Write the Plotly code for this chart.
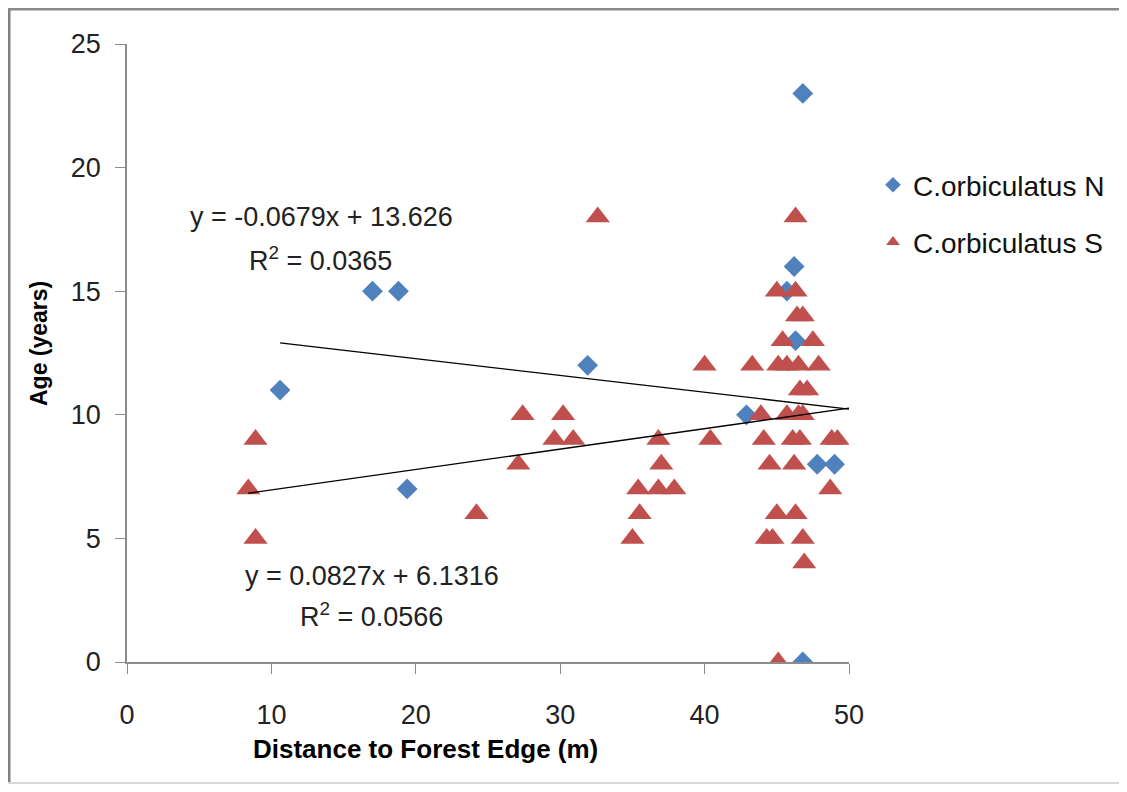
import plotly.graph_objects as go

# Data
n_name = "C.orbiculatus N"
n_dist = [10.6, 17.0, 18.8, 19.4, 31.9, 42.9, 46.8, 46.2, 45.7, 46.3, 47.8, 49.0, 46.8]
n_age = [11, 15, 15, 7, 12, 10, 23, 16, 15, 13, 8, 8, 0]

s_name = "C.orbiculatus S"
s_dist = [8.4, 8.9, 8.9, 24.2, 27.1, 27.4, 29.6, 30.2, 30.9, 32.6, 35.0, 35.4, 35.5,
          36.8, 37.0, 36.8, 37.9, 40.0, 40.4, 43.3, 43.9, 44.1, 44.5, 44.3, 44.7,
          45.0, 45.0, 45.1, 45.1, 45.4, 45.7, 45.7, 46.1, 46.2, 46.3, 46.3, 46.3,
          46.4, 46.5, 46.5, 46.6, 46.6, 46.8, 46.8, 46.8, 46.9, 47.1, 47.5, 47.9,
          48.7, 48.8, 49.2]
s_age = [7, 9, 5, 6, 8, 10, 9, 10, 9, 18, 5, 7, 6,
         9, 8, 7, 7, 12, 9, 12, 10, 9, 8, 5, 5,
         15, 6, 12, 0, 13, 12, 10, 9, 8, 18, 15, 6,
         14, 12, 10, 11, 9, 14, 10, 5, 4, 11, 13, 12,
         7, 9, 9]

# Trendline equations as printed on the chart
n_slope, n_intercept = -0.0679, 13.626
s_slope, s_intercept = 0.0827, 6.1316
n_label = ["y = -0.0679x + 13.626", "R<sup>2</sup> = 0.0365"]
s_label = ["y = 0.0827x + 6.1316", "R<sup>2</sup> = 0.0566"]

x_ticks = [0, 10, 20, 30, 40, 50]
y_ticks = [0, 5, 10, 15, 20, 25]
x_title = "Distance to Forest Edge (m)"
y_title = "Age (years)"

FONT = "Liberation Sans, Arial, sans-serif"
BLUE = "#4F81BD"
RED = "#C0504D"
TXT = "#222222"

# figure is placed by the page at an 8px offset; sizes below are in figure px
W, H = 1111, 776
L, T = 119, 36
PW, PH = 722, 618
R = W - L - PW
B = H - T - PH


def px_to_paper_x(px):
    return (px - L) / PW


def px_to_paper_y(py):
    return (T + PH - py) / PH


x_max = x_ticks[-1]

fig = go.Figure()
fig.add_trace(go.Scatter(
    x=n_dist, y=n_age, mode="markers", name=n_name, legendgroup="n",
    marker=dict(symbol="diamond", size=16, color=BLUE),
))
fig.add_trace(go.Scatter(
    x=s_dist, y=s_age, mode="markers", name=s_name, legendgroup="s",
    marker=dict(symbol="triangle-up", size=21, color=RED),
))
# Trendlines
nx = [min(n_dist), x_max]
sx = [min(s_dist), x_max]
fig.add_trace(go.Scatter(x=nx, y=[n_slope * v + n_intercept for v in nx], mode="lines",
                         line=dict(color="black", width=1.3), showlegend=False, hoverinfo="skip"))
fig.add_trace(go.Scatter(x=sx, y=[s_slope * v + s_intercept for v in sx], mode="lines",
                         line=dict(color="black", width=1.3), showlegend=False, hoverinfo="skip"))

# Equation annotations
ann_font = dict(family=FONT, size=27, color=TXT)
fig.add_annotation(x=13.5, y=18.0, text=n_label[0], showarrow=False, font=ann_font, xanchor="center")
fig.add_annotation(x=13.4, y=16.3, text=n_label[1], showarrow=False, font=ann_font, xanchor="center")
fig.add_annotation(x=17.0, y=3.47, text=s_label[0], showarrow=False, font=ann_font, xanchor="center")
fig.add_annotation(x=16.9, y=1.9, text=s_label[1], showarrow=False, font=ann_font, xanchor="center")

# Axis titles
fig.add_annotation(xref="paper", yref="paper", x=px_to_paper_x(425 - 8), y=px_to_paper_y(749 - 8),
                   text="<b>" + x_title + "</b>", showarrow=False,
                   font=dict(family=FONT, size=26, color="black"), xanchor="center", yanchor="middle")
fig.add_annotation(xref="paper", yref="paper", x=px_to_paper_x(39 - 8), y=px_to_paper_y(344 - 8),
                   text="<b>" + y_title + "</b>", showarrow=False, textangle=-90,
                   font=dict(family=FONT, size=23, color="black"), xanchor="center", yanchor="middle")

# Outer chart border (left, top, bottom)
fig.add_shape(type="line", xref="paper", yref="paper",
              x0=px_to_paper_x(1), x1=px_to_paper_x(1), y0=px_to_paper_y(H), y1=px_to_paper_y(0),
              line=dict(color="#808080", width=3), layer="below")
fig.add_shape(type="line", xref="paper", yref="paper",
              x0=px_to_paper_x(0), x1=px_to_paper_x(W), y0=px_to_paper_y(1), y1=px_to_paper_y(1),
              line=dict(color="#8a8a8a", width=3), layer="below")
fig.add_shape(type="line", xref="paper", yref="paper",
              x0=px_to_paper_x(0), x1=px_to_paper_x(W), y0=px_to_paper_y(H - 1), y1=px_to_paper_y(H - 1),
              line=dict(color="#d9d9d9", width=2), layer="below")

fig.update_layout(
    width=W, height=H,
    margin=dict(l=L, r=R, t=T, b=B, autoexpand=False),
    paper_bgcolor="white", plot_bgcolor="white",
    font=dict(family=FONT, size=27, color=TXT),
    legend=dict(x=px_to_paper_x(873 - 8), y=px_to_paper_y(160 - 8), xanchor="left", yanchor="top",
                font=dict(family=FONT, size=28, color="#111111"),
                traceorder="grouped", tracegroupgap=18,
                itemsizing="constant", bgcolor="rgba(0,0,0,0)"),
    xaxis=dict(range=[0, x_max], tickvals=x_ticks, ticks="outside", ticklen=10,
               tickcolor="#8c8c8c", showline=True, linecolor="#8c8c8c", linewidth=1.5,
               showgrid=False, zeroline=False, ticklabelstandoff=18,
               tickfont=dict(family=FONT, size=27, color=TXT)),
    yaxis=dict(range=[0, 25], tickvals=y_ticks, ticks="outside", ticklen=10,
               tickcolor="#8c8c8c", showline=True, linecolor="#8c8c8c", linewidth=1.5,
               showgrid=False, zeroline=False, ticklabelstandoff=9,
               tickfont=dict(family=FONT, size=27, color=TXT)),
    showlegend=True,
)

fig.write_html("out.html")
